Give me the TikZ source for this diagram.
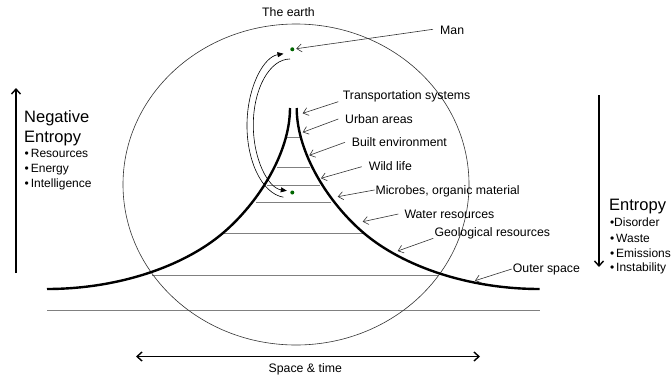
\documentclass[tikz,border=0pt]{standalone}
\usepackage{fontspec}
\setmainfont{Liberation Sans}
\usetikzlibrary{arrows.meta}
\begin{document}
\begin{tikzpicture}[x=1pt,y=-1pt,
  lbl/.style={inner sep=0pt, anchor=base west, font=\fontsize{12.3}{14}\selectfont},
  head/.style={inner sep=0pt, anchor=base west, font=\fontsize{16.5}{19}\selectfont},
  item/.style={inner sep=0pt, anchor=base west, font=\fontsize{12}{14}\selectfont},
  pointer/.style={draw=black!80, line width=0.6pt, -{Straight Barb[length=5pt,width=8pt]}},
  bigarrow/.style={line width=1.4pt, -{Straight Barb[length=5pt,width=9pt]}},
  bothways/.style={line width=1.4pt, {Straight Barb[length=5pt,width=9pt]}-{Straight Barb[length=5pt,width=9pt]}},
  layer/.style={draw=black!50, line width=0.9pt},
  horn/.style={line width=2.4pt},
  earth/.style={draw=black!80, line width=0.6pt},
  flow/.style={line width=0.6pt, -{Triangle[length=6pt,width=5pt]}},
  dot/.style={circle, fill=green!40!black, inner sep=0pt, minimum size=4pt, outer sep=2pt}]

\fill[white] (0,0) rectangle (672,378);
\useasboundingbox (0,0) rectangle (672,378);

% horizontal layers of the pyramid
\draw[layer] (286,137) -- (300.7,137);
\draw[layer] (277,167) -- (309.7,167);
\draw[layer] (267,185) -- (319.7,185);
\draw[layer] (256,202) -- (330.7,202);
\draw[layer] (223,233) -- (363.7,233);
\draw[layer] (152,275) -- (438,275);
\draw[layer] (47,310) -- (540,310);

% the earth
\draw[earth] (296,184.5) ellipse [x radius=173, y radius=160.5];
\node[lbl] (earth) at (262,16.5) {The earth};

% the horn-shaped profile
\draw[horn] (290,108) .. controls (290,153) and (258,203.25) .. (223,233)
                      .. controls (183,267) and (117,289) .. (47,289);
\draw[horn] (296.7,108) .. controls (296.7,153) and (328.7,203.25) .. (363.7,233)
                        .. controls (403.7,267) and (469.7,289) .. (539.7,289);

% man and the microbes level
\node[dot] (mantop) at (292.3,49.3) {};
\node[dot] (manbot) at (292.3,192.5) {};
\draw[flow] (283.5,197.2) arc[start angle=95, end angle=265, x radius=40, y radius=72];
\draw[flow] (290,59) arc[start angle=270, end angle=95, x radius=36.7, y radius=66];

% labels with pointers
\node[lbl] (man) at (440,34.5) {Man};
\coordinate (sman) at (433,29.3);
\draw[pointer] (sman) -- (mantop);

\node[lbl] (trans) at (342.7,99.3) {Transportation systems};
\coordinate (strans) at (338.3,101.7);
\coordinate (ptrans) at (302.7,113.3);
\draw[pointer] (strans) -- (ptrans);

\node[lbl] (urban) at (345,123.3) {Urban areas};
\coordinate (surban) at (338.3,119);
\coordinate (purban) at (302.7,132.3);
\draw[pointer] (surban) -- (purban);

\node[lbl] (built) at (351.7,146.7) {Built environment};
\coordinate (sbuilt) at (345,142.3);
\coordinate (pbuilt) at (309.3,155.3);
\draw[pointer] (sbuilt) -- (pbuilt);

\node[lbl] (wild) at (368.7,170.6) {Wild life};
\coordinate (swild) at (361.7,166.7);
\coordinate (pwild) at (321,178.3);
\draw[pointer] (swild) -- (pwild);

\node[lbl] (micro) at (375.3,194.3) {Microbes, organic material};
\coordinate (smicro) at (374.5,190);
\coordinate (pmicro) at (337.7,196.7);
\draw[pointer] (smicro) -- (pmicro);

\node[lbl] (water) at (404.3,218.3) {Water resources};
\coordinate (swater) at (398.3,214);
\coordinate (pwater) at (362.7,221.7);
\draw[pointer] (swater) -- (pwater);

\node[lbl] (geo) at (434.3,236) {Geological resources};
\coordinate (sgeo) at (433.3,238.3);
\coordinate (pgeo) at (397.7,251);
\draw[pointer] (sgeo) -- (pgeo);

\node[lbl] (outer) at (512.7,272.7) {Outer space};
\coordinate (souter) at (511.7,269);
\coordinate (pouter) at (475,280.7);
\draw[pointer] (souter) -- (pouter);

% negative entropy side
\coordinate (negbot) at (16,273);
\coordinate (negtop) at (16,88);
\draw[bigarrow] (negbot) -- (negtop);
\node[head] (neg1) at (24,122) {Negative};
\node[head] (neg2) at (24,142) {Entropy};
\node[item] (res) at (24.5,157) {•\hspace{2pt}Resources};
\node[item] (ene) at (24.5,172) {•\hspace{2pt}Energy};
\node[item] (int) at (24.5,187) {•\hspace{2pt}Intelligence};

% entropy side
\coordinate (enttop) at (599,95);
\coordinate (entbot) at (599,267);
\draw[bigarrow] (enttop) -- (entbot);
\node[head] (ent) at (609,210.7) {Entropy};
\node[item] (dis) at (609.8,226) {•Disorder};
\node[item] (was) at (609.8,242) {•\hspace{2pt}Waste};
\node[item] (emi) at (609.8,257) {•\hspace{2pt}Emissions};
\node[item] (ins) at (609.8,271) {•\hspace{2pt}Instability};

% space and time axis
\coordinate (stl) at (136,356.5);
\coordinate (str) at (480,356.5);
\draw[bothways] (stl) -- (str);
\node[lbl] (st) at (268.5,372) {Space \& time};
\end{tikzpicture}
\end{document}
